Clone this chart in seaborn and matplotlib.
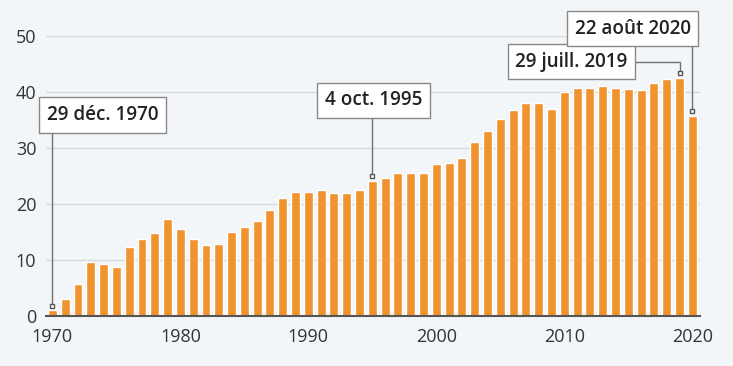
import numpy as np
import pandas as pd
import seaborn as sns
import matplotlib.pyplot as plt

years = list(range(1970, 2021))
values = [1.0, 3.0, 5.7, 9.6, 9.3, 8.8, 12.3, 13.7, 14.8, 17.3,
          15.6, 13.7, 12.6, 12.9, 15.0, 15.9, 17.0, 18.9, 21.0, 22.1,
          22.1, 22.5, 21.9, 21.9, 22.5, 24.1, 24.6, 25.5, 25.5, 25.5,
          27.1, 27.4, 28.2, 31.0, 33.1, 35.1, 36.7, 38.1, 38.0, 37.0,
          40.0, 40.8, 40.7, 41.1, 40.8, 40.5, 40.3, 41.6, 42.4, 42.5,
          35.8]

# annotated days: label, year, box centre (year, value), anchor on the box
notes = [("29 déc. 1970", 1970, (1973.9, 35.9), (0.2, 0.0)),
         ("4 oct. 1995", 1995, (1995.1, 38.5), (0.5, 0.0)),
         ("29 juill. 2019", 2019, (2010.55, 45.4), (1.0, 0.5)),
         ("22 août 2020", 2020, (2015.35, 51.3), (0.9, 0.0))]

df = pd.DataFrame({"year": years, "value": values})

bg = "#f3f6f9"
sns.set_theme(style="white", rc={"axes.facecolor": bg, "figure.facecolor": bg})
plt.rcParams["font.family"] = ["Open Sans", "DejaVu Sans"]

fig = plt.figure(figsize=(7.33, 3.66), dpi=100)
ax = fig.add_axes([46 / 733, 50 / 366, 654 / 733, 280 / 366])

sns.barplot(data=df, x="year", y="value", native_scale=True, width=0.7,
            color="#f0922e", saturation=1, ax=ax, zorder=3)

ax.set_xlim(1969.5, 2020.6)
ax.set_ylim(0, 50)
ax.set_xticks([1970, 1980, 1990, 2000, 2010, 2020])
ax.set_yticks([0, 10, 20, 30, 40, 50])
ax.set_xlabel("")
ax.set_ylabel("")
ax.grid(axis="y", color="#d5d8dc", linewidth=1, zorder=0)
ax.tick_params(axis="both", length=0, labelsize=13, colors="#333333")
ax.tick_params(axis="x", pad=9)
ax.tick_params(axis="y", pad=7)
for s in ["top", "right", "left"]:
    ax.spines[s].set_visible(False)
ax.spines["bottom"].set_color("#555555")
ax.spines["bottom"].set_linewidth(1.5)
ax.spines["bottom"].set_zorder(4)

val = dict(zip(years, values))
for label, yr, pos, rel in notes:
    my = val[yr] + 0.85
    ax.annotate(label, xy=(yr, my), xytext=pos, ha="center", va="center",
                fontsize=13.6, fontweight="semibold", color="#222222",
                bbox=dict(boxstyle="square,pad=0.4", fc="white", ec="#888888", lw=1),
                arrowprops=dict(arrowstyle="-", color="#707070", lw=1, shrinkA=0, shrinkB=0,
                                patchA=None, relpos=rel,
                                connectionstyle="angle,angleA=0,angleB=90,rad=0"),
                annotation_clip=False, zorder=6)
    ax.plot([yr], [my], marker="s", ms=3, mfc="white", mec="#555555", mew=1,
            zorder=7, clip_on=False)

fig.savefig("out.png", dpi=100)
